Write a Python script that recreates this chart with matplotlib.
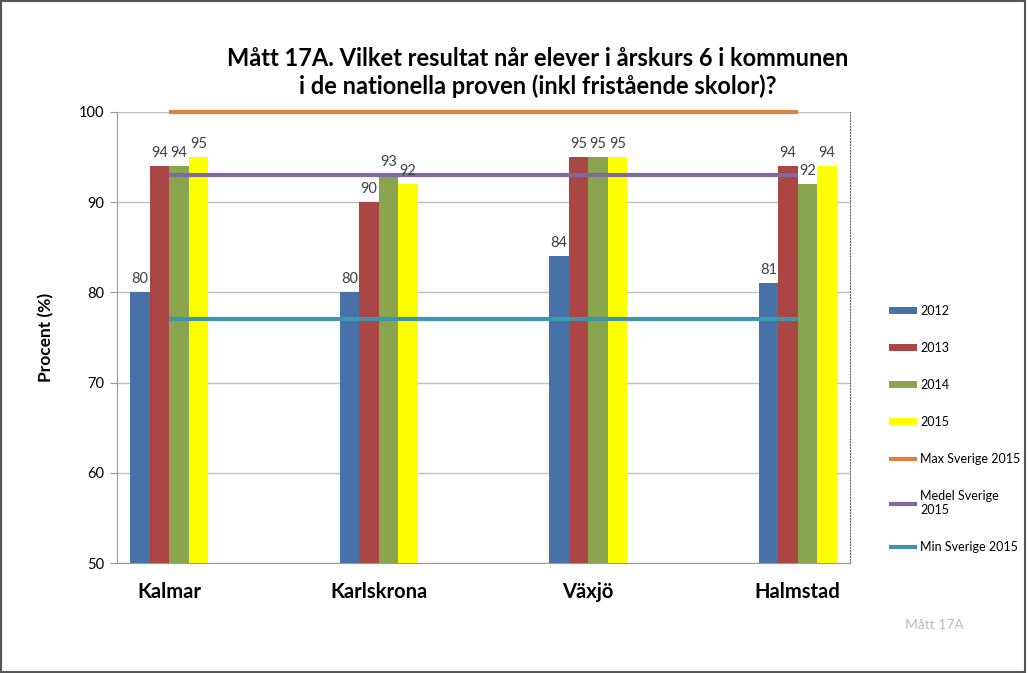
import matplotlib.pyplot as plt
import numpy as np
from matplotlib.patches import Rectangle

plt.rcParams['font.family'] = ['Lato', 'DejaVu Sans']

kommuner = ['Kalmar', 'Karlskrona', 'Växjö', 'Halmstad']
years = ['2012', '2013', '2014', '2015']
values = [
    [80, 80, 84, 81],   # 2012
    [94, 90, 95, 94],   # 2013
    [94, 93, 95, 92],   # 2014
    [95, 92, 95, 94],   # 2015
]
bar_colors = ['#4672A8', '#AA4643', '#89A54E', '#FFFF00']

ref_labels = ['Max Sverige 2015', 'Medel Sverige\n2015', 'Min Sverige 2015']
ref_values = [100, 93, 77]
ref_colors = ['#DB843D', '#80699B', '#3D96AE']

fig = plt.figure(figsize=(10.28, 6.73), dpi=100)
ax = fig.add_axes([0.1138, 0.1634, 0.713, 0.6702])

x = np.arange(len(kommuner))
w = 0.093
handles = []
for i, (yr, vals) in enumerate(zip(years, values)):
    pos = x + (i - 1.5) * w
    b = ax.bar(pos, np.array(vals) - 50, w, bottom=50, color=bar_colors[i],
               label=yr, zorder=2)
    handles.append(b)
    for p, v in zip(pos, vals):
        ax.text(p, v + 0.7, str(v), ha='center', va='bottom', fontsize=10.5,
                color='#404040', zorder=4)

for lab, val, col in zip(ref_labels, ref_values, ref_colors):
    ln, = ax.plot([x[0], x[-1]], [val, val], color=col, lw=3,
                  solid_capstyle='butt', label=lab, zorder=3, clip_on=False)
    handles.append(ln)

ax.set_xlim(-0.25, 3.25)
ax.set_ylim(50, 100)
ax.set_yticks(range(50, 101, 10))
ax.yaxis.grid(True, color='#BFBFBF', lw=1, zorder=0)
ax.set_xticks(x)
ax.set_xticklabels(kommuner, fontsize=14.5, fontweight='bold')
ax.tick_params(axis='x', length=0, pad=14)
ax.tick_params(axis='y', length=5, color='#999999', labelsize=10.5, pad=4)
ax.spines['left'].set_color('#999999')
ax.spines['bottom'].set_color('#999999')
ax.spines['top'].set_visible(False)
ax.spines['right'].set_linestyle(':')
ax.spines['right'].set_color('#666666')
ax.set_ylabel('Procent (%)', fontsize=12.5, fontweight='bold', labelpad=18)

fig.text(0.523, 0.892,
         'Mått 17A. Vilket resultat når elever i årskurs 6 i kommunen\n'
         'i de nationella proven (inkl fristående skolor)?',
         ha='center', va='center', fontsize=17, fontweight='bold',
         linespacing=1.25)

leg = fig.legend(handles=handles, loc='upper left',
                 bbox_to_anchor=(0.865, 0.547), frameon=False, fontsize=9,
                 handlelength=2.2, handleheight=0.5, labelspacing=2.0,
                 handletextpad=0.3, borderaxespad=0, borderpad=0)

fig.text(0.88, 0.065, 'Mått 17A', fontsize=10, color='#BBBBBB')

fig.patches.append(Rectangle((0.001, 0.002), 0.996, 0.996,
                             transform=fig.transFigure, fill=False,
                             edgecolor='#555555', lw=1.5))

fig.savefig('out.png', dpi=100)
